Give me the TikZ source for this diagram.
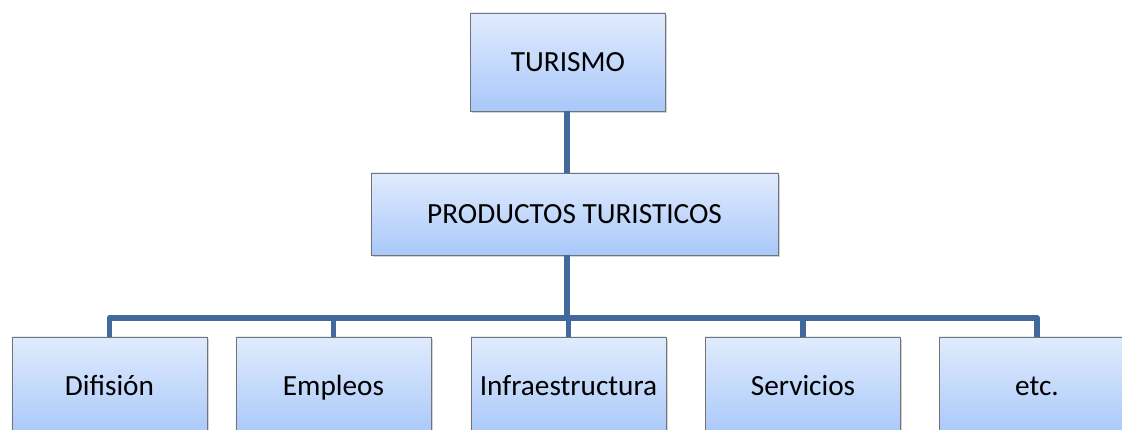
\documentclass[tikz,border=0pt]{standalone}
\usepackage{fontspec}
\setmainfont{Carlito}
\usetikzlibrary{shadows}
\definecolor{boxtop}{HTML}{E0EBFD}
\definecolor{boxbot}{HTML}{A9C8F9}
\definecolor{linkblue}{HTML}{41699C}
\tikzset{
    box/.style={draw=gray!90!black, line width=0.6pt, top color=boxtop, bottom color=boxbot,
        minimum width=4.875cm, minimum height=2.45cm, inner sep=0pt,
        text height=13.4pt, text depth=0pt,
        font=\fontsize{20.8}{25}\selectfont,
        drop shadow={opacity=0.35, shadow xshift=1.2pt, shadow yshift=-1.5pt}},
    link/.style={draw=linkblue, line width=4.2pt}
}
\begin{document}
\begin{tikzpicture}[x=0.025cm, y=-0.025cm]
    \useasboundingbox (0,0) rectangle (1122,429);
    \node[box] (tur) at (568,62) {TURISMO};
    \node[box, minimum width=10.175cm, minimum height=2.05cm] (prod) at (574.5,214) {PRODUCTOS TURISTICOS};
    \coordinate (bus) at (567,318);
    \foreach \x/\name/\txt in {109.5/dif/Difisión, 333.5/emp/Empleos, 568.5/inf/Infraestructura, 803/ser/Servicios, 1037/etc/etc.}{
        \node[box] (\name) at (\x,386) {\txt};
    }
    \draw[link] (tur.south -| bus) -- (prod.north -| bus);
    \foreach \name in {dif, emp, inf, ser, etc}{
        \draw[link, line join=round] (prod.south -| bus) -- (bus) -- (bus -| \name.north) -- (\name.north);
    }
\end{tikzpicture}
\end{document}
